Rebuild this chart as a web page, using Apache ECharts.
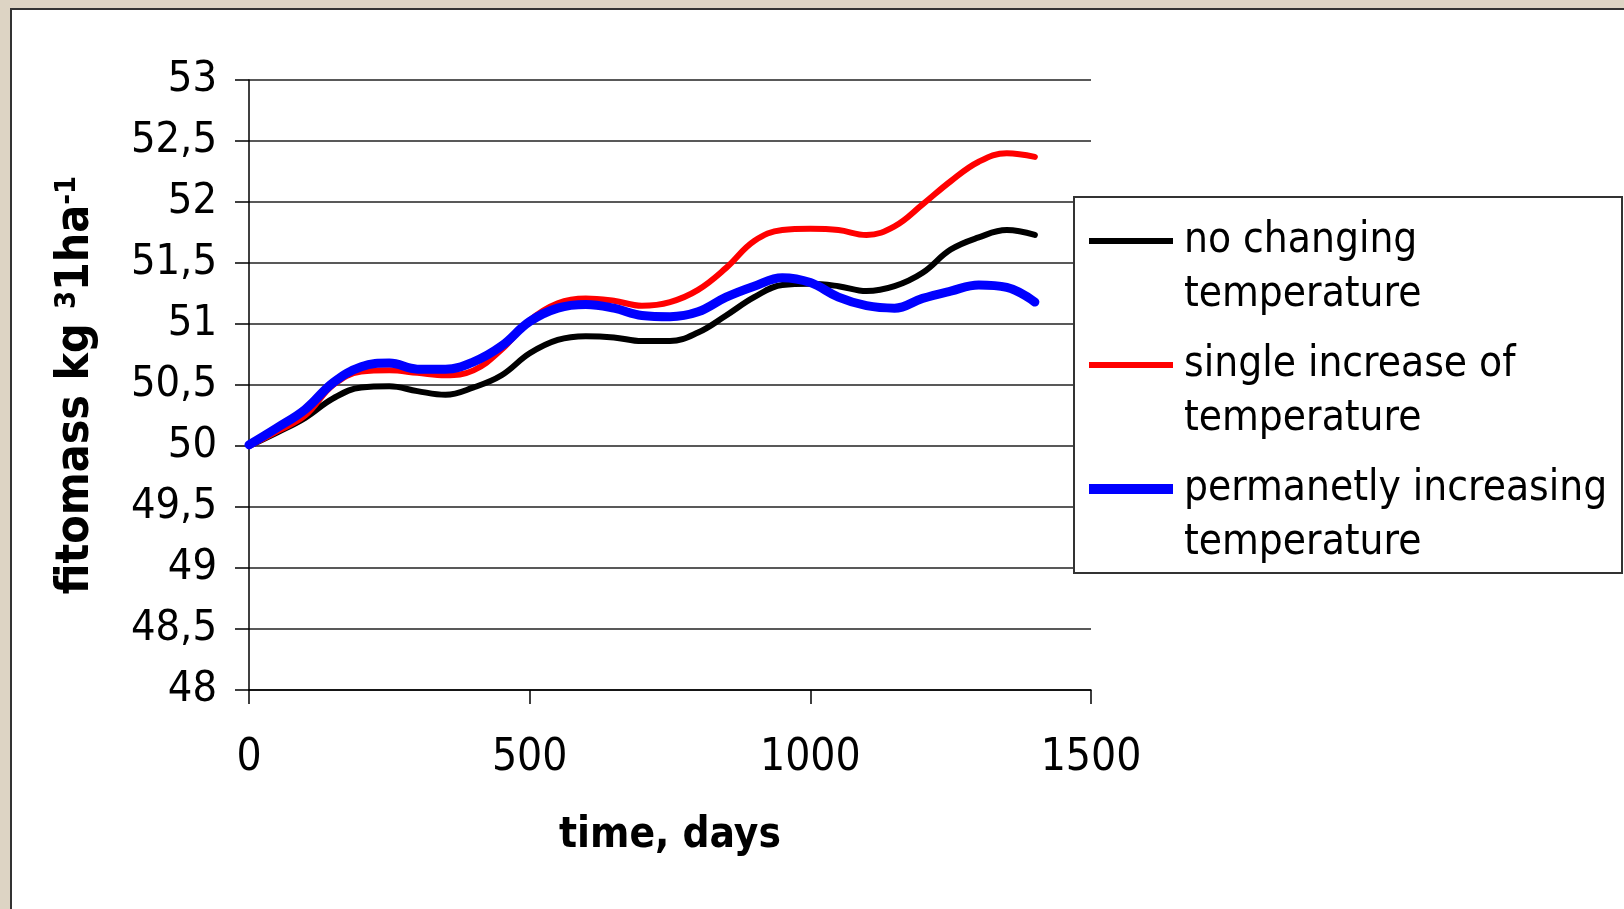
<!DOCTYPE html>
<html>
<head>
<meta charset="utf-8">
<title>fitomass over time</title>
<script src="https://cdn.jsdelivr.net/npm/echarts@6/dist/echarts.min.js"></script>
<style>
  html, body { margin: 0; padding: 0; width: 1624px; height: 909px; overflow: hidden; background: #ddd4c4; }
  #panel { position: absolute; left: 10px; top: 8px; width: 1640px; height: 930px; background: #fff; border: 2px solid #333; }
  #chart { position: absolute; left: 0; top: 0; width: 1624px; height: 909px; }
</style>
</head>
<body>
<div id="panel"></div>
<div id="chart"></div>
<script>
// time axis, days
const days = [0, 50, 100, 150, 200, 250, 300, 350, 400, 450, 500, 550, 600, 650, 700,
              750, 800, 850, 900, 950, 1000, 1050, 1100, 1150, 1200, 1250, 1300, 1350, 1400];

// fitomass under three temperature scenarios
const noChange = [50.00, 50.11, 50.23, 50.39, 50.48, 50.49, 50.45, 50.42, 50.48, 50.58,
                  50.76, 50.87, 50.90, 50.89, 50.86, 50.86, 50.93, 51.07, 51.22, 51.32,
                  51.33, 51.31, 51.27, 51.31, 51.42, 51.61, 51.71, 51.77, 51.73];
const singleIncrease = [50.00, 50.12, 50.25, 50.50, 50.61, 50.62, 50.60, 50.58, 50.62, 50.79,
                        51.03, 51.17, 51.21, 51.19, 51.15, 51.18, 51.28, 51.46, 51.68, 51.77,
                        51.78, 51.77, 51.73, 51.80, 51.98, 52.17, 52.33, 52.40, 52.37];
const permanentIncrease = [50.01, 50.15, 50.30, 50.52, 50.65, 50.68, 50.63, 50.63, 50.69, 50.82,
                           51.02, 51.13, 51.16, 51.13, 51.07, 51.06, 51.10, 51.22, 51.31, 51.38,
                           51.34, 51.22, 51.15, 51.13, 51.21, 51.27, 51.32, 51.30, 51.18];

const seriesNames = ['no changing temperature', 'single increase of temperature', 'permanetly increasing temperature'];
const legendLabels = ['no changing\ntemperature', 'single increase of\ntemperature', 'permanetly increasing\ntemperature'];
const xTicks = [0, 500, 1000, 1500];
const yTicks = [48, 48.5, 49, 49.5, 50, 50.5, 51, 51.5, 52, 52.5, 53];

const FONT = "'DejaVu Sans Condensed', 'DejaVu Sans', sans-serif";

function pairs(values) {
  return days.map((d, i) => [d, values[i]]);
}

const chart = echarts.init(document.getElementById('chart'), null, { renderer: 'canvas' });

const lineSpec = [
  { values: noChange, color: '#000000', width: 6 },
  { values: singleIncrease, color: '#ff0000', width: 6 },
  { values: permanentIncrease, color: '#0000ff', width: 9 }
];

chart.setOption({
  backgroundColor: 'transparent',
  animation: false,
  grid: { left: 249, right: 533, top: 80, bottom: 219, containLabel: false },
  xAxis: {
    type: 'value',
    min: xTicks[0],
    max: xTicks[xTicks.length - 1],
    interval: 500,
    name: 'time, days',
    nameLocation: 'middle',
    nameGap: 125,
    nameTextStyle: { fontFamily: FONT, fontSize: 42, fontWeight: 'bold', color: '#000' },
    axisLine: { show: true, lineStyle: { color: '#000', width: 1.5 } },
    axisTick: { show: true, length: 14, lineStyle: { color: '#000', width: 1.5 } },
    axisLabel: {
      margin: 47, fontFamily: FONT, fontSize: 44, color: '#000',
      formatter: v => String(v)
    },
    splitLine: { show: false }
  },
  yAxis: {
    type: 'value',
    min: yTicks[0],
    max: yTicks[yTicks.length - 1],
    interval: 0.5,
    name: 'fitomass kg {sup|3}1ha{sup|-1}',
    nameLocation: 'middle',
    nameGap: 150,
    nameRotate: 90,
    nameTextStyle: {
      fontFamily: FONT, fontSize: 46, fontWeight: 'bold', color: '#000',
      rich: {
        sup: { fontFamily: FONT, fontSize: 29, fontWeight: 'bold', color: '#000', verticalAlign: 'top' }
      }
    },
    axisLine: { show: true, lineStyle: { color: '#000', width: 1.5 } },
    axisTick: { show: true, length: 14, lineStyle: { color: '#000', width: 1.5 } },
    axisLabel: {
      margin: 32, fontFamily: FONT, fontSize: 43, color: '#000',
      formatter: v => String(v).replace('.', ',')
    },
    splitLine: { show: true, lineStyle: { color: '#222', width: 1.5 } }
  },
  legend: {
    orient: 'vertical',
    left: 1089,
    top: 160,
    padding: 0,
    itemWidth: 84,
    itemHeight: 10,
    itemGap: -38,
    z: 10,
    selectedMode: false,
    formatter: name => '\n' + legendLabels[seriesNames.indexOf(name)],
    textStyle: { fontFamily: FONT, fontSize: 42, lineHeight: 54, color: '#000', padding: [0, 0, 0, 6] },
    data: [
      { name: seriesNames[0], icon: 'path://M0,0H84V6H0Z' },
      { name: seriesNames[1], icon: 'path://M0,0H84V6H0Z' },
      { name: seriesNames[2], icon: 'path://M0,0H84V10H0Z' }
    ]
  },
  graphic: {
    elements: [{
      type: 'rect',
      z: 5,
      shape: { x: 1074, y: 197, width: 548, height: 376 },
      style: { fill: '#fff', stroke: '#333', lineWidth: 2 }
    }]
  },
  series: lineSpec.map((s, i) => ({
    name: seriesNames[i],
    type: 'line',
    data: pairs(s.values),
    smooth: 0.4,
    showSymbol: false,
    symbol: 'none',
    lineStyle: { color: s.color, width: s.width, cap: 'round', join: 'round' },
    itemStyle: { color: s.color },
    z: 2 + i
  }))
});
</script>
</body>
</html>
